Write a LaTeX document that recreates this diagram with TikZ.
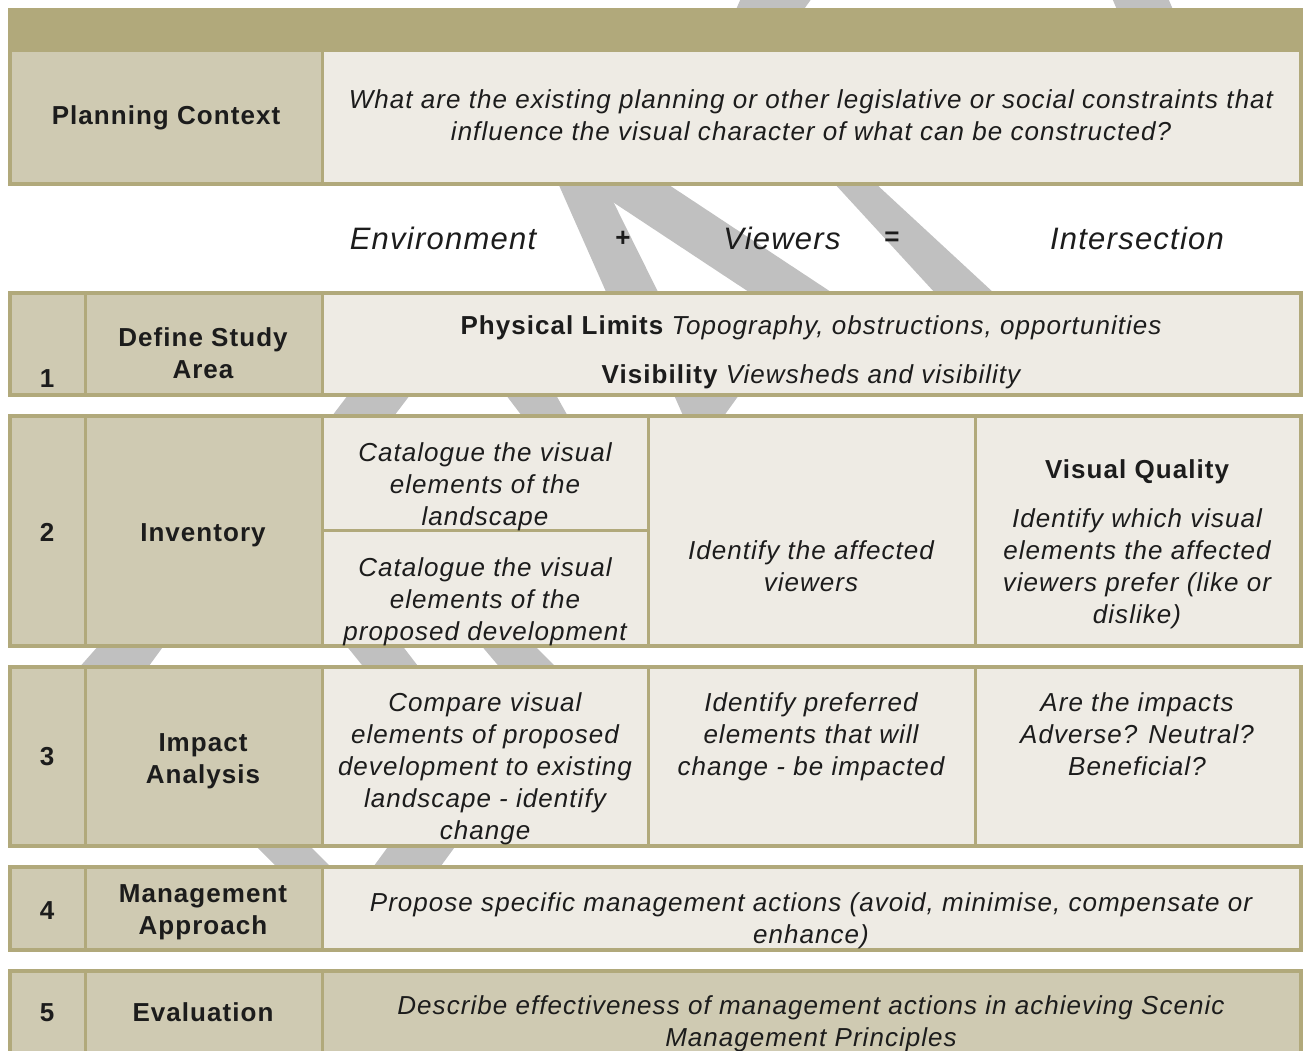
\documentclass[tikz,border=0pt]{standalone}
\usepackage{fontspec}
\setmainfont{Liberation Sans}[LetterSpace=4]
\definecolor{olive}{HTML}{B1A97B}
\definecolor{labelfill}{HTML}{CFCAB2}
\definecolor{cellfill}{HTML}{EEEBE4}
\definecolor{stripe}{HTML}{C0C0C0}
\definecolor{ink}{HTML}{1C1C1C}
\begin{document}
\begin{tikzpicture}[x=1pt,y=-1pt,
  every node/.style={inner sep=0pt, text=ink, align=center},
  stephead/.style={font=\fontsize{26}{32}\selectfont\bfseries},
  celltext/.style={font=\fontsize{26}{32}\selectfont\itshape},
  eqword/.style={font=\fontsize{31}{36}\selectfont\itshape},
  eqop/.style={font=\fontsize{26}{30}\selectfont\bfseries},
  shade/.style={fill=stripe},
  rowframe/.style={draw=olive, line width=4pt},
  divider/.style={draw=olive, line width=3pt},
]
\useasboundingbox[fill=white] (0,0) rectangle (1306,1050);

% background sight lines (only their pieces between the rows stay visible)
\fill[shade] (741,-2) -- (812,-2) -- (802,12) -- (735,12) -- cycle;
\fill[shade] (1112,-2) -- (1168,-2) -- (1174,12) -- (1118,12) -- cycle;
\fill[shade] (558,183) -- (604,183) -- (659,294) -- (607,294) -- cycle;
\fill[shade] (584,183) -- (666,183) -- (834,294) -- (752,294) -- cycle;
\fill[shade] (834,183) -- (875,183) -- (995,294) -- (936,294) -- cycle;
\fill[shade] (348,395) -- (410,395) -- (391,420) -- (329,420) -- cycle;
\fill[shade] (506,395) -- (556,395) -- (570,420) -- (525,420) -- cycle;
\fill[shade] (674,395) -- (739,395) -- (721,420) -- (685,420) -- cycle;
\fill[shade] (100,644) -- (165,644) -- (146,670) -- (77,670) -- cycle;
\fill[shade] (345,644) -- (401,644) -- (421,670) -- (366,670) -- cycle;
\fill[shade] (480,644) -- (533,644) -- (559,670) -- (502,670) -- cycle;
\fill[shade] (254,844) -- (308,844) -- (334,870) -- (280,870) -- cycle;
\fill[shade] (390,844) -- (457,844) -- (438,870) -- (371,870) -- cycle;

% planning context block
\fill[olive] (10,9.5) rectangle (1301,52);
\fill[labelfill] (10,52) rectangle (322.5,183.5);
\fill[cellfill] (322.5,52) rectangle (1301,183.5);
\draw[divider] (322.5,52) -- (322.5,183.5);
\draw[rowframe] (10,9.5) rectangle (1301,183.5);

% step 1
\fill[labelfill] (10,292.5) rectangle (322.5,395);
\fill[cellfill] (322.5,292.5) rectangle (1301,395);
\draw[divider] (85.5,292.5) -- (85.5,395) (322.5,292.5) -- (322.5,395);
\draw[rowframe] (10,292.5) rectangle (1301,395);

% step 2
\fill[labelfill] (10,416) rectangle (322.5,646);
\fill[cellfill] (322.5,416) rectangle (1301,646);
\draw[divider] (85.5,416) -- (85.5,646) (322.5,416) -- (322.5,646)
  (648,416) -- (648,646) (975,416) -- (975,646) (322.5,530.5) -- (648,530.5);
\draw[rowframe] (10,416) rectangle (1301,646);

% step 3
\fill[labelfill] (10,667) rectangle (322.5,846);
\fill[cellfill] (322.5,667) rectangle (1301,846);
\draw[divider] (85.5,667) -- (85.5,846) (322.5,667) -- (322.5,846)
  (648,667) -- (648,846) (975,667) -- (975,846);
\draw[rowframe] (10,667) rectangle (1301,846);

% step 4
\fill[labelfill] (10,867) rectangle (322.5,949.5);
\fill[cellfill] (322.5,867) rectangle (1301,949.5);
\draw[divider] (85.5,867) -- (85.5,949.5) (322.5,867) -- (322.5,949.5);
\draw[rowframe] (10,867) rectangle (1301,949.5);

% step 5
\fill[labelfill] (10,971) rectangle (1301,1070);
\draw[divider] (85.5,971) -- (85.5,1070) (322.5,971) -- (322.5,1070);
\draw[rowframe] (10,971) rectangle (1301,1070);

% texts
\node[stephead] (pc) at (166,118) {Planning Context};
\node[celltext] (pcq) at (811,115) {What are the existing planning or other legislative or social constraints that\\influence the visual character of what can be constructed?};

\node[eqword] (env) at (443,238) {Environment};
\node[eqop] (plus) at (623,239) {+};
\node[eqword] (view) at (782,238) {Viewers};
\node[eqop] (equal) at (892,239) {=};
\node[eqword] (inter) at (1137,238) {Intersection};

\node[stephead] (n1) at (47,379) {1};
\node[stephead] (ds) at (203,353) {Define Study\\Area};
\node[celltext] (phys) at (811,328) {\textbf{\upshape Physical Limits} Topography, obstructions, opportunities};
\node[celltext] (vis) at (811,377) {\textbf{\upshape Visibility} Viewsheds and visibility};

\node[stephead] (n2) at (47,532) {2};
\node[stephead] (inv) at (203,535) {Inventory};
\node[celltext] (cat1) at (485,487) {Catalogue the visual\\elements of the\\landscape};
\node[celltext] (cat2) at (485,602) {Catalogue the visual\\elements of the\\proposed development};
\node[celltext] (aff) at (811,566) {Identify the affected\\viewers};
\node[stephead] (vq) at (1137,472) {Visual Quality};
\node[celltext] (vqt) at (1137,568.5) {Identify which visual\\elements the affected\\viewers prefer (like or\\dislike)};

\node[stephead] (n3) at (47,757) {3};
\node[stephead] (ia) at (203,761) {Impact\\Analysis};
\node[celltext] (cmp) at (485,768.5) {Compare visual\\elements of proposed\\development to existing\\landscape - identify\\change};
\node[celltext] (pref) at (811,737) {Identify preferred\\elements that will\\change - be impacted};
\node[celltext] (adv) at (1137,734) {Are the impacts\\Adverse? Neutral?\\Beneficial?};

\node[stephead] (n4) at (47,911) {4};
\node[stephead] (ma) at (203,912) {Management\\Approach};
\node[celltext] (prop) at (811,921) {Propose specific management actions (avoid, minimise, compensate or\\enhance)};

\node[stephead] (n5) at (47,1013) {5};
\node[stephead] (ev) at (203,1012) {Evaluation};
\node[celltext] (desc) at (811,1024) {Describe effectiveness of management actions in achieving Scenic\\Management Principles};
\end{tikzpicture}
\end{document}
